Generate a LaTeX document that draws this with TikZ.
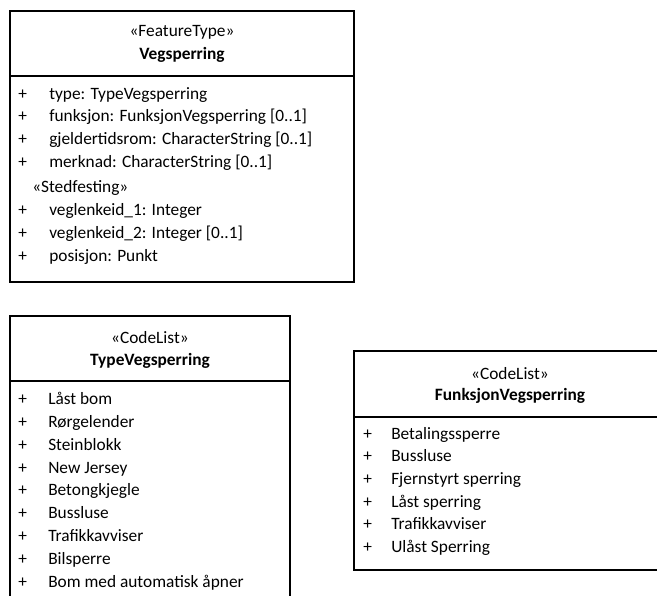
\documentclass[tikz,border=0pt]{standalone}
\usepackage{fontspec}
\setmainfont{Carlito}
\usetikzlibrary{positioning}

\begin{document}
\begin{tikzpicture}[x=0.75pt,y=-0.75pt,
  every node/.style={font=\fontsize{13}{15}\selectfont,inner sep=0pt,text=black},
  classbox/.style={draw=black,line width=1.2pt},
  plus/.style={anchor=mid west},
  entry/.style={anchor=mid west}]
\useasboundingbox (0,0) rectangle (657,596);
\clip (0,0) rectangle (657,596);

% Vegsperring
\draw[classbox] (10,11) rectangle (354,282);
\draw[classbox] (10,76) -- (354,76);
\node (vegst) at (182,32) {«FeatureType»};
\node[font=\fontsize{13}{15}\selectfont\bfseries] (vegnm) at (182,55) {Vegsperring};
\foreach \txt [count=\i] in {{type: TypeVegsperring},{funksjon: FunksjonVegsperring [0..1]},
    {gjeldertidsrom: CharacterString [0..1]},{merknad: CharacterString [0..1]}}{
  \node[plus] (vegp\i) at ({18},{96+22.7*(\i-1)}) {+};
  \node[entry] (vega\i) at ({49},{96+22.7*(\i-1)}) {\txt};
}
\node[entry] (vegsted) at (32,189.5) {«Stedfesting»};
\foreach \txt [count=\i] in {{veglenkeid\_1: Integer},{veglenkeid\_2: Integer [0..1]},{posisjon: Punkt}}{
  \node[plus] (vegq\i) at ({18},{212.5+22.7*(\i-1)}) {+};
  \node[entry] (vegb\i) at ({49},{212.5+22.7*(\i-1)}) {\txt};
}

% TypeVegsperring
\draw[classbox] (10,620) -- (10,316) -- (290,316) -- (290,620);
\draw[classbox] (10,381) -- (290,381);
\node (typst) at (150,338) {«CodeList»};
\node[font=\fontsize{13}{15}\selectfont\bfseries] (typnm) at (150,361) {TypeVegsperring};
\foreach \txt [count=\i] in {{Låst bom},{Rørgelender},{Steinblokk},{New Jersey},{Betongkjegle},
    {Bussluse},{Trafikkavviser},{Bilsperre},{Bom med automatisk åpner}}{
  \node[plus] (typp\i) at ({18},{401.5+22.8*(\i-1)}) {+};
  \node[entry] (typv\i) at ({48},{401.5+22.8*(\i-1)}) {\txt};
}

% FunksjonVegsperring
\draw[classbox] (354,351) rectangle (666,570);
\draw[classbox] (354,417) -- (666,417);
\node (funst) at (510,374) {«CodeList»};
\node[font=\fontsize{13}{15}\selectfont\bfseries] (funnm) at (510,396) {FunksjonVegsperring};
\foreach \txt [count=\i] in {{Betalingssperre},{Bussluse},{Fjernstyrt sperring},{Låst sperring},
    {Trafikkavviser},{Ulåst Sperring}}{
  \node[plus] (funp\i) at ({363},{436+22.7*(\i-1)}) {+};
  \node[entry] (funv\i) at ({391},{436+22.7*(\i-1)}) {\txt};
}
\end{tikzpicture}
\end{document}
